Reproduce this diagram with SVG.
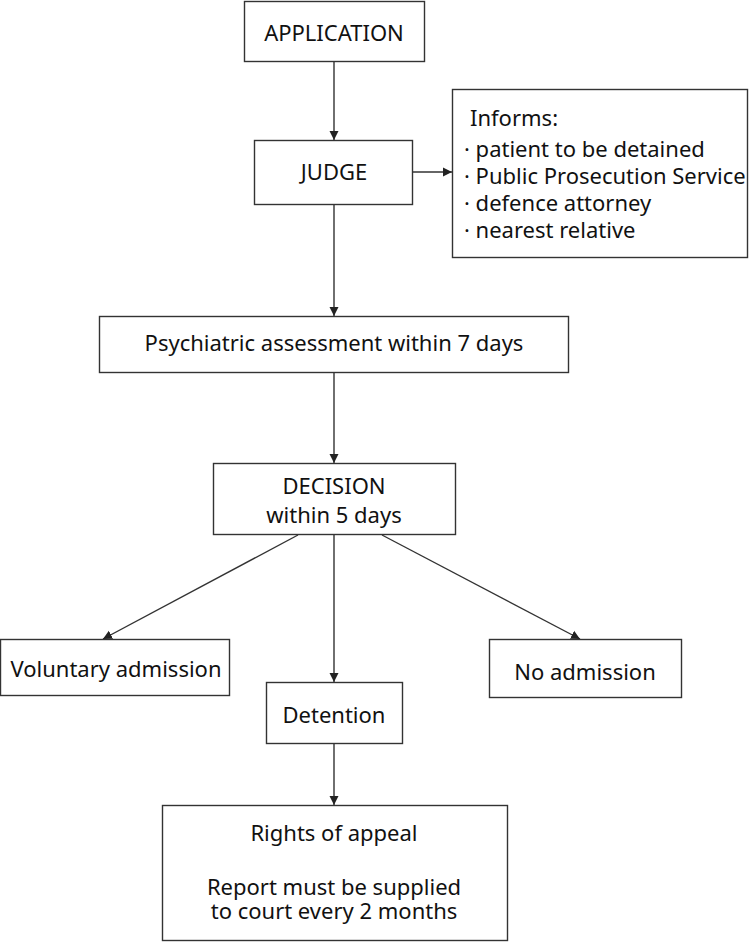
<svg xmlns="http://www.w3.org/2000/svg" width="750" height="942" viewBox="0 0 750 942">
<style>
.box{fill:#fff;stroke:#333;stroke-width:1.4}
.t{font-family:"Noto Sans","Liberation Sans",sans-serif;font-size:22px;fill:#111;text-anchor:middle}
.tl{font-family:"Noto Sans","Liberation Sans",sans-serif;font-size:22px;fill:#111}
.c{stroke:#333;stroke-width:1.4;fill:none}
</style>
<defs>
<marker id="ah" markerWidth="10" markerHeight="10" refX="9" refY="5" orient="auto" markerUnits="userSpaceOnUse">
<path d="M0,0.5 L9,5 L0,9.5 Z" fill="#222"/>
</marker>
</defs>
<rect width="750" height="942" fill="#fff"/>
<g id="connectors">
<line class="c" x1="334" y1="62" x2="334" y2="140" marker-end="url(#ah)"/>
<line class="c" x1="412" y1="172" x2="452" y2="172" marker-end="url(#ah)"/>
<line class="c" x1="334" y1="205" x2="334" y2="316" marker-end="url(#ah)"/>
<line class="c" x1="334" y1="373" x2="334" y2="463" marker-end="url(#ah)"/>
<line class="c" x1="298" y1="535" x2="103" y2="639" marker-end="url(#ah)"/>
<line class="c" x1="334" y1="535" x2="334" y2="682" marker-end="url(#ah)"/>
<line class="c" x1="382" y1="535" x2="580" y2="639" marker-end="url(#ah)"/>
<line class="c" x1="334" y1="744" x2="334" y2="805" marker-end="url(#ah)"/>
</g>
<g id="application">
<rect class="box" x="244.5" y="1.5" width="180" height="60"/>
<text class="t" x="334" y="41">APPLICATION</text>
</g>
<g id="judge">
<rect class="box" x="254.5" y="140.5" width="158" height="64"/>
<text class="t" x="334" y="180">JUDGE</text>
</g>
<g id="informs">
<rect class="box" x="452.5" y="89.5" width="295" height="168"/>
<text class="tl" x="470" y="126">Informs:</text>
<text class="tl" x="464" y="157">·&#160;patient to be detained</text>
<text class="tl" x="464" y="184">·&#160;Public Prosecution Service</text>
<text class="tl" x="464" y="211">·&#160;defence attorney</text>
<text class="tl" x="464" y="238">·&#160;nearest relative</text>
</g>
<g id="psychiatric">
<rect class="box" x="99.5" y="316.5" width="469" height="56"/>
<text class="t" x="334" y="351">Psychiatric assessment within 7 days</text>
</g>
<g id="decision">
<rect class="box" x="213.5" y="463.5" width="242" height="71"/>
<text class="t" x="334" y="494">DECISION</text>
<text class="t" x="334" y="523">within 5 days</text>
</g>
<g id="voluntary">
<rect class="box" x="0.5" y="639.5" width="229" height="56"/>
<text class="t" x="116" y="677">Voluntary admission</text>
</g>
<g id="detention">
<rect class="box" x="266.5" y="682.5" width="136" height="61"/>
<text class="t" x="334" y="723">Detention</text>
</g>
<g id="noadmission">
<rect class="box" x="489.5" y="639.5" width="192" height="58"/>
<text class="t" x="585" y="680">No admission</text>
</g>
<g id="rights">
<rect class="box" x="162.5" y="805.5" width="345" height="135"/>
<text class="t" x="334" y="841">Rights of appeal</text>
<text class="t" x="334" y="895">Report must be supplied</text>
<text class="t" x="334" y="919">to court every 2 months</text>
</g>
</svg>
